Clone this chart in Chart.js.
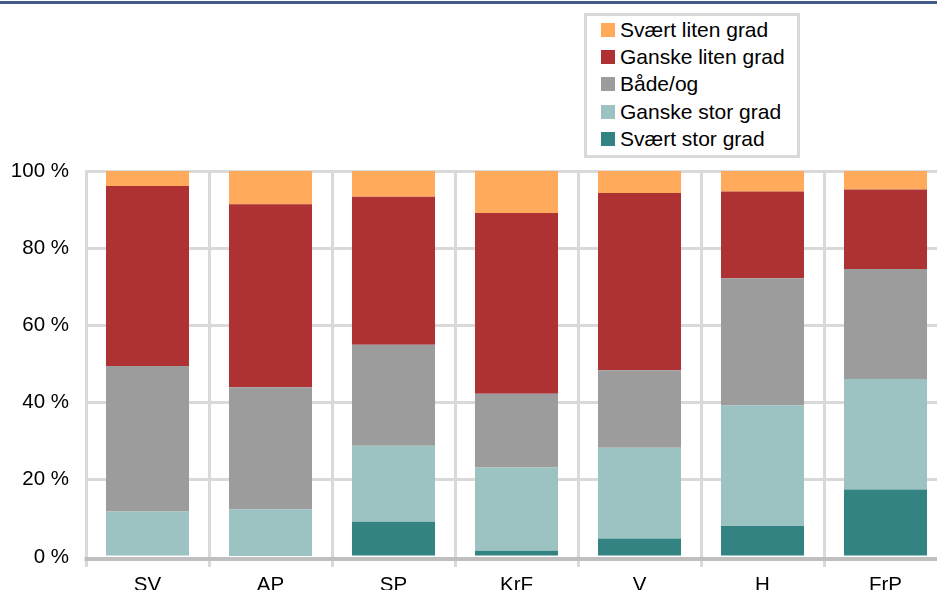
<!DOCTYPE html>
<html>
<head>
<meta charset="utf-8">
<script src="https://cdn.jsdelivr.net/npm/chart.js@4/dist/chart.umd.min.js"></script>
<style>
  html, body { margin: 0; padding: 0; background: #fff; overflow: hidden; width: 937px; height: 590px; }
  #topLine { position: absolute; left: 0; top: 1px; width: 937px; height: 3px; background: #41598b; }
  #wrap { position: absolute; left: 0; top: 0; width: 960px; height: 610px; }
  #legend {
    position: absolute; left: 584px; top: 13px; width: 216px; height: 145px;
    box-sizing: border-box; border: 3px solid #d9d9d9; background: #fff;
    font-family: "Liberation Sans", Arial, sans-serif; font-size: 21px; color: #000;
  }
  .row { display: flex; align-items: center; height: 27.3px; }
  .sw { width: 14px; height: 14px; margin-left: 14px; margin-right: 5px; }
</style>
</head>
<body>
<div id="topLine"></div>
<div id="wrap"><canvas id="chart" width="960" height="610"></canvas></div>
<div id="legend"></div>
<script>
const categories = ['SV', 'AP', 'SP', 'KrF', 'V', 'H', 'FrP'];
const seriesNames = ['Svært stor grad', 'Ganske stor grad', 'Både/og', 'Ganske liten grad', 'Svært liten grad'];
const seriesColors = ['#338383', '#9cc2c2', '#9c9c9c', '#ae3234', '#ffab5b'];

const svaertStor = [0, 0.5, 9.1, 1.6, 4.8, 8.0, 17.5];
const ganskeStor = [11.8, 11.9, 19.7, 21.6, 23.5, 31.3, 28.6];
const baadeOg = [37.7, 31.6, 26.2, 19.1, 20.1, 32.9, 28.5];
const ganskeLiten = [46.6, 47.4, 38.3, 46.8, 45.9, 22.5, 20.6];
const svaertLiten = [3.9, 8.6, 6.7, 10.9, 5.7, 5.3, 4.8];

const yTicks = [0, 20, 40, 60, 80, 100];

const seriesValues = [svaertStor, ganskeStor, baadeOg, ganskeLiten, svaertLiten];
const font = { family: '"Liberation Sans", Arial, sans-serif', size: 20.5 };

const datasets = seriesValues.map((vals, i) => ({
  label: seriesNames[i],
  data: vals,
  backgroundColor: seriesColors[i],
  borderWidth: 0,
  barPercentage: 0.675,
  categoryPercentage: 1
}));

// x axis line sits just under the bars, like the original
const axisLine = {
  id: 'axisLine',
  beforeDatasetsDraw(chart) {
    const { ctx, chartArea } = chart;
    ctx.save();
    ctx.strokeStyle = '#bfbfbf';
    ctx.lineWidth = 4;
    ctx.beginPath();
    ctx.moveTo(chartArea.left - 1.5, chartArea.bottom + 2);
    ctx.lineTo(chartArea.right, chartArea.bottom + 2);
    ctx.stroke();
    ctx.restore();
  }
};

const chart = new Chart(document.getElementById('chart').getContext('2d'), {
  type: 'bar',
  data: { labels: categories, datasets },
  plugins: [axisLine],
  options: {
    responsive: false,
    animation: false,
    layout: { padding: { left: 0, top: 171, right: 13, bottom: 0 } },
    plugins: { legend: { display: false }, tooltip: { enabled: false } },
    scales: {
      x: {
        stacked: true,
        grid: { color: '#d9d9d9', lineWidth: 3, tickLength: 10, drawTicks: true },
        border: { display: false },
        ticks: { color: '#000', font, padding: 6, maxRotation: 0 },
        afterFit: (s) => { s.height = 53; }
      },
      y: {
        stacked: true,
        min: 0,
        max: 100,
        afterBuildTicks: (s) => { s.ticks = yTicks.map((v) => ({ value: v })); },
        grid: {
          color: (c) => (c.tick && c.tick.value === 0 ? 'rgba(0,0,0,0)' : '#d9d9d9'),
          lineWidth: 3,
          drawTicks: false
        },
        border: { color: '#d9d9d9', width: 3 },
        ticks: { color: '#000', font, padding: 17, callback: (v) => v + ' %' },
        afterFit: (s) => { s.width = 86; }
      }
    }
  }
});

// legend: top of the stack first
const legendEl = document.getElementById('legend');
chart.data.datasets.slice().reverse().forEach((ds) => {
  const row = document.createElement('div');
  row.className = 'row';
  const sw = document.createElement('span');
  sw.className = 'sw';
  sw.style.background = ds.backgroundColor;
  const txt = document.createElement('span');
  txt.textContent = ds.label;
  row.appendChild(sw);
  row.appendChild(txt);
  legendEl.appendChild(row);
});
</script>
</body>
</html>
